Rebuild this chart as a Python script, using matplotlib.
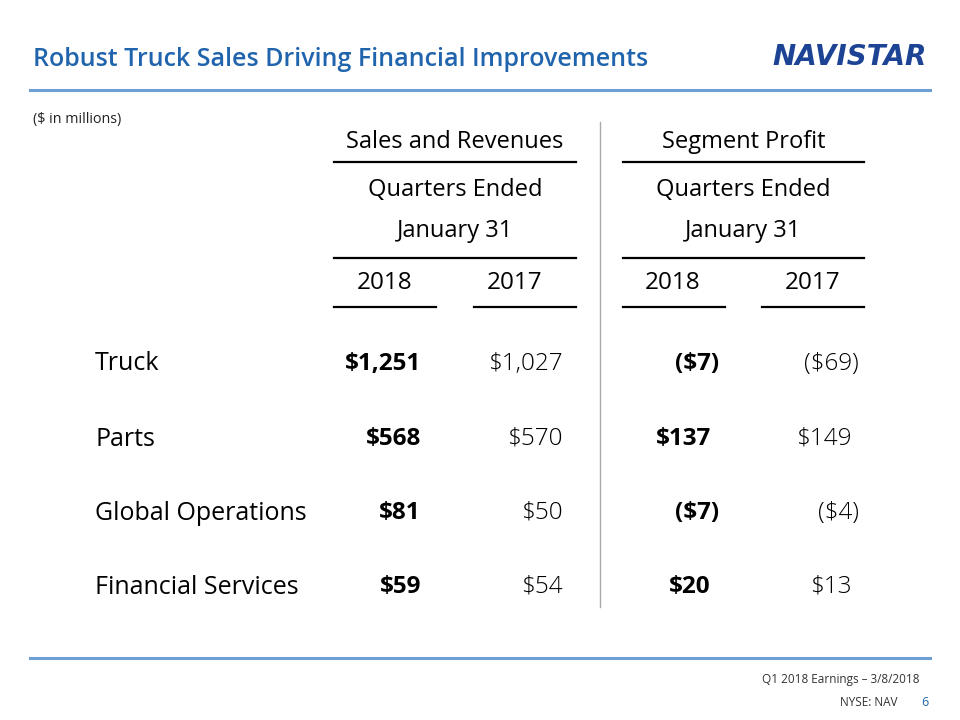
import matplotlib
matplotlib.use("Agg")
import matplotlib.pyplot as plt

plt.rcParams['font.family'] = ['Open Sans', 'DejaVu Sans']

segments = ["Truck", "Parts", "Global Operations", "Financial Services"]
sales_2018 = [1251, 568, 81, 59]
sales_2017 = [1027, 570, 50, 54]
profit_2018 = [-7, 137, -7, 20]
profit_2017 = [-69, 149, -4, 13]
years = ["2018", "2017"]

title = "Robust Truck Sales Driving Financial Improvements"
BLUE = "#1F64AD"
LINE_BLUE = "#6F9FD4"


def fmt(v):
    s = "${:,}".format(abs(v))
    return "(" + s + ")" if v < 0 else s


fig = plt.figure(figsize=(9.6, 7.2), dpi=100)
ax = fig.add_axes([0, 0, 1, 1])
ax.set_xlim(0, 960)
ax.set_ylim(720, 0)
ax.axis("off")

dy = 2  # small baseline correction

# Header
ax.text(33, 57 + dy, title, color=BLUE, fontsize=18, fontweight="semibold",
        ha="left", va="center")
ax.text(850, 57, "NAVISTAR", color="#1C4394", fontsize=20, fontweight="heavy",
        style="italic", ha="center", va="center", family="DejaVu Sans")
ax.plot([30, 930], [90, 90], color=LINE_BLUE, lw=2.2)
ax.text(33, 117 + dy, "($ in millions)", fontsize=10.3, ha="left", va="center", color="#222222")

# Vertical separator
ax.plot([600, 600], [122, 607], color="#AAAAAA", lw=1)

# Column headings
groups = [("Sales and Revenues", 334, 576, [385, 515]),
          ("Segment Profit", 623, 864, [673, 813])]
hdr_fs = 17
for name, x0, x1, ycent in groups:
    xc = (x0 + x1) / 2
    ax.text(xc, 140 + dy, name, fontsize=hdr_fs, ha="center", va="center")
    ax.plot([x0, x1], [162, 162], color="black", lw=1.6)
    ax.text(xc, 188 + dy, "Quarters Ended", fontsize=hdr_fs, ha="center", va="center")
    ax.text(xc, 229 + dy, "January 31", fontsize=hdr_fs, ha="center", va="center")
    ax.plot([x0, x1], [258, 258], color="black", lw=1.6)
    ax.text(ycent[0], 281 + dy, years[0], fontsize=hdr_fs + 0.5, ha="center", va="center")
    ax.text(ycent[1], 281 + dy, years[1], fontsize=hdr_fs + 0.5, ha="center", va="center")
    ax.plot([x0, x0 + 102], [307, 307], color="black", lw=1.6)
    ax.plot([x1 - 102, x1], [307, 307], color="black", lw=1.6)

# Rows
row_y = [362, 437, 511, 585]
fs = 17.5
for i, seg in enumerate(segments):
    y = row_y[i] + dy
    ax.text(95, y, seg, fontsize=18, ha="left", va="center")
    ax.text(421, y, fmt(sales_2018[i]), fontsize=fs, fontweight="bold", ha="right", va="center")
    ax.text(563, y, fmt(sales_2017[i]), fontsize=fs, ha="right", va="center", fontweight="light")
    p18 = profit_2018[i]
    ax.text(719 if p18 < 0 else 711, y, fmt(p18), fontsize=fs, fontweight="bold",
            ha="right", va="center")
    p17 = profit_2017[i]
    ax.text(859 if p17 < 0 else 852, y, fmt(p17), fontsize=fs, ha="right", va="center",
            fontweight="light")

# Footer
ax.plot([30, 930], [658, 658], color=LINE_BLUE, lw=2.2)
ax.text(920, 679, "Q1 2018 Earnings \u2013 3/8/2018", fontsize=8.5, ha="right", va="center",
        color="#333333")
ax.text(898, 702, "NYSE: NAV", fontsize=8.5, ha="right", va="center", color="#333333")
ax.text(929, 702, "6", fontsize=9, ha="right", va="center", color=BLUE)

fig.savefig("out.png", dpi=100)
